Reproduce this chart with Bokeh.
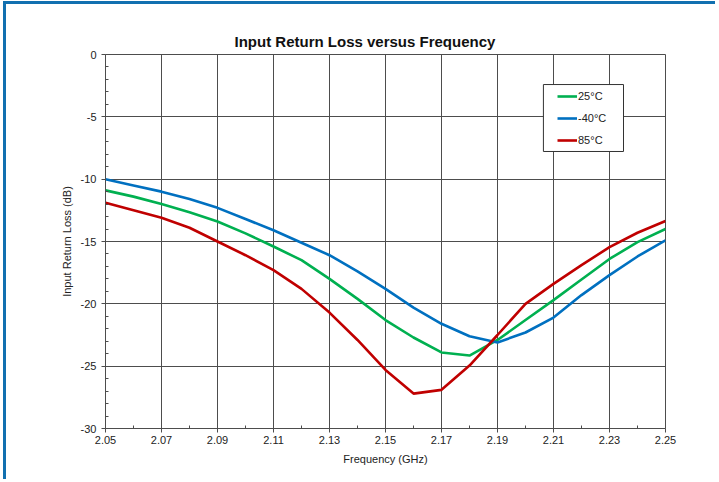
from bokeh.plotting import figure
from bokeh.models import (FixedTicker, PrintfTickFormatter, Legend, LegendItem,
                          BoxAnnotation, Range1d, Title)
from bokeh.embed import file_html
from bokeh.resources import INLINE

# ---- data ----
freq = [2.05, 2.06, 2.07, 2.08, 2.09, 2.10, 2.11, 2.12, 2.13, 2.14, 2.15,
        2.16, 2.17, 2.18, 2.19, 2.20, 2.21, 2.22, 2.23, 2.24, 2.25]
rl_25c = [-10.9, -11.4, -12.0, -12.65, -13.4, -14.35, -15.4, -16.5, -18.0, -19.6, -21.3,
          -22.7, -23.9, -24.15, -22.9, -21.3, -19.7, -18.05, -16.4, -15.05, -14.0]
rl_m40c = [-10.0, -10.5, -11.0, -11.6, -12.3, -13.2, -14.1, -15.1, -16.1, -17.4, -18.8,
           -20.3, -21.6, -22.6, -23.1, -22.3, -21.1, -19.3, -17.7, -16.2, -14.9]
rl_85c = [-11.9, -12.5, -13.1, -13.9, -15.0, -16.1, -17.3, -18.8, -20.7, -22.9, -25.3,
          -27.2, -26.9, -24.95, -22.5, -20.0, -18.4, -16.9, -15.45, -14.3, -13.35]
series_labels = ["25°C", "-40°C", "85°C"]
x_major_ticks = [2.05, 2.07, 2.09, 2.11, 2.13, 2.15, 2.17, 2.19, 2.21, 2.23, 2.25]
x_minor_ticks = [2.06, 2.08, 2.10, 2.12, 2.14, 2.16, 2.18, 2.20, 2.22, 2.24]
y_major_ticks = [0, -5, -10, -15, -20, -25, -30]
y_minor_ticks = [v for v in range(-30, 1) if v % 5 != 0]
chart_title = "Input Return Loss versus Frequency"

FONT = "Liberation Sans"
GRID = "#4d4d4d"
BORDER = "#1170b0"

p = figure(width=712, height=478, output_backend="svg", toolbar_location=None,
           x_range=Range1d(2.05, 2.25), y_range=Range1d(-30, 0), title=None,
           min_border_left=99, min_border_right=53, min_border_top=50, min_border_bottom=54,
           styles={"margin-left": "3px", "margin-top": "1px",
                   "border-left": "3px solid " + BORDER,
                   "border-top": "3px solid " + BORDER})

p.background_fill_color = "white"
p.border_fill_color = "white"
p.outline_line_color = GRID
p.outline_line_width = 1

# blank spacer next to the frame, then the title above it
spacer = Title(text=" ", text_font=FONT, text_font_size="1px", standoff=19,
               text_alpha=0)
p.add_layout(spacer, "above")
main_title = Title(text=chart_title, text_font=FONT, text_font_size="15px",
                   text_font_style="bold", text_color="#111111",
                   align="left", offset=129, standoff=10)
p.add_layout(main_title, "above")

xt = FixedTicker(ticks=x_major_ticks, minor_ticks=x_minor_ticks)
yt = FixedTicker(ticks=y_major_ticks, minor_ticks=y_minor_ticks)
p.xaxis.ticker = xt
p.yaxis.ticker = yt
p.xgrid.ticker = xt
p.ygrid.ticker = yt
p.xaxis.formatter = PrintfTickFormatter(format="%.2f")
p.yaxis.formatter = PrintfTickFormatter(format="%d")

for ax in (p.xaxis, p.yaxis):
    ax.axis_line_color = GRID
    ax.major_tick_line_color = GRID
    ax.minor_tick_line_color = GRID
    ax.major_tick_out = 4
    ax.major_tick_in = 0
    ax.minor_tick_in = 3
    ax.minor_tick_out = 0
    ax.major_label_text_font = FONT
    ax.major_label_text_font_size = "11px"
    ax.major_label_text_color = "#222222"
    ax.axis_label_text_font = FONT
    ax.axis_label_text_font_size = "11px"
    ax.axis_label_text_font_style = "normal"
    ax.axis_label_text_color = "#222222"

p.xaxis.axis_label = "Frequency (GHz)"
p.yaxis.axis_label = "Input Return Loss (dB)"
p.xaxis.major_label_standoff = 3
p.xaxis.axis_label_standoff = 6
p.yaxis.major_label_standoff = 5
p.yaxis.axis_label_standoff = 5

p.xgrid.grid_line_color = GRID
p.ygrid.grid_line_color = GRID
p.xgrid.grid_line_width = 1
p.ygrid.grid_line_width = 1

colors = ["#00b050", "#0070c0", "#c00000"]
series = [rl_25c, rl_m40c, rl_85c]
renderers = []
for ys, c in zip(series, colors):
    r = p.line(freq, ys, line_color=c, line_width=2.6)
    renderers.append(r)

# legend frame (white box with dark border)
box = BoxAnnotation(left=2.2064, right=2.235, top=-2.41, bottom=-7.78,
                    fill_color="white", fill_alpha=1.0,
                    line_color="#333333", line_width=1, line_alpha=1.0)
p.add_layout(box)

legend = Legend(items=[LegendItem(label=lab, renderers=[r]) for lab, r in zip(series_labels, renderers)],
                location=(452, 282), padding=0, spacing=10, margin=0,
                glyph_width=20, glyph_height=12, label_height=12, label_standoff=1,
                label_text_font=FONT, label_text_font_size="11px", label_text_color="#222222",
                border_line_alpha=0, background_fill_alpha=0)
p.add_layout(legend, "center")

open("out.html", "w").write(file_html(p, INLINE))
